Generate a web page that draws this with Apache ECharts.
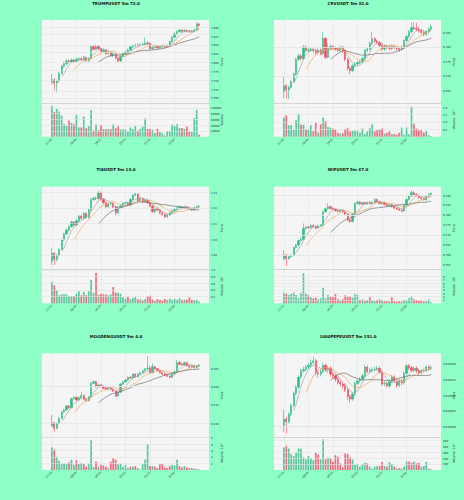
<!DOCTYPE html>
<html>
<head>
<meta charset="utf-8">
<script src="https://cdn.jsdelivr.net/npm/echarts@6/dist/echarts.min.js"></script>
<style>
  html, body { margin: 0; padding: 0; background: #8effc6; }
  #chart { width: 464px; height: 500px; }
</style>
</head>
<body>
<div id="chart"></div>
<script>
// x tick labels, one every 10 candles (5m)
const timeTicks = ['17:55', '18:45', '19:35', '20:25', '21:15', '22:05'];

// ---- TRUMPUSDT ----
const trumpFirstOpen = 7.745;
const trumpClose = [7.752,7.742,7.748,7.770,7.790,7.797,7.805,7.802,7.808,7.804,7.810,7.812,7.808,7.815,7.806,7.812,7.846,7.838,7.846,7.840,7.832,7.836,7.826,7.830,7.820,7.825,7.813,7.805,7.818,7.826,7.830,7.836,7.845,7.848,7.850,7.849,7.851,7.852,7.856,7.855,7.840,7.843,7.846,7.842,7.846,7.848,7.845,7.848,7.860,7.872,7.882,7.888,7.892,7.889,7.891,7.890,7.888,7.889,7.893,7.910,7.906];
const trumpHigh = [7.768,7.756,7.752,7.774,7.794,7.803,7.809,7.809,7.812,7.811,7.814,7.816,7.815,7.819,7.818,7.815,7.850,7.850,7.852,7.850,7.843,7.840,7.838,7.834,7.833,7.829,7.828,7.816,7.822,7.830,7.834,7.840,7.849,7.852,7.854,7.854,7.855,7.857,7.872,7.862,7.858,7.847,7.850,7.849,7.850,7.852,7.851,7.852,7.863,7.876,7.886,7.892,7.896,7.895,7.895,7.894,7.893,7.893,7.897,7.914,7.913];
const trumpLow = [7.738,7.722,7.716,7.745,7.766,7.786,7.793,7.798,7.799,7.800,7.801,7.806,7.804,7.805,7.802,7.802,7.809,7.834,7.835,7.836,7.828,7.829,7.822,7.822,7.816,7.816,7.809,7.800,7.802,7.815,7.822,7.827,7.833,7.842,7.844,7.845,7.846,7.847,7.849,7.850,7.836,7.836,7.840,7.838,7.839,7.843,7.841,7.842,7.845,7.857,7.869,7.878,7.885,7.885,7.886,7.886,7.884,7.885,7.886,7.890,7.902];
const trumpVol = [106000,86000,96000,87000,73000,44000,40000,56000,48000,43000,75000,32000,32000,70000,29000,37000,93000,21000,43000,22000,41000,26000,26000,26000,26000,43000,29000,36000,25000,25000,25000,19000,32000,26000,37000,21000,27000,35000,64000,27000,26000,24000,13000,27000,17000,12000,4000,20000,20000,43000,37000,44000,30000,30000,27000,35000,19000,16000,65000,93000,7000];
const trumpPriceTicks = [7.700,7.725,7.750,7.775,7.800,7.825,7.850,7.875,7.900];
const trumpVolTicks = [20000,40000,60000,80000,100000];

// ---- CRVUSDT ----
const crvFirstOpen = 0.7647;
const crvClose = [0.7666,0.7652,0.7661,0.7681,0.7707,0.7757,0.7769,0.7760,0.7799,0.7787,0.7789,0.7792,0.7787,0.7780,0.7789,0.7776,0.7829,0.7764,0.7795,0.7801,0.7796,0.7792,0.7787,0.7799,0.7785,0.7757,0.7726,0.7718,0.7735,0.7741,0.7746,0.7748,0.7760,0.7787,0.7792,0.7812,0.7828,0.7819,0.7815,0.7805,0.7792,0.7801,0.7799,0.7794,0.7801,0.7797,0.7793,0.7792,0.7799,0.7821,0.7835,0.7852,0.7866,0.7863,0.7860,0.7855,0.7849,0.7843,0.7852,0.7861,0.7869];
const crvHigh = [0.7698,0.7672,0.7667,0.7686,0.7712,0.7762,0.7776,0.7775,0.7806,0.7805,0.7795,0.7798,0.7797,0.7793,0.7795,0.7794,0.7852,0.7834,0.7812,0.7808,0.7806,0.7801,0.7797,0.7804,0.7803,0.7790,0.7762,0.7732,0.7740,0.7747,0.7752,0.7754,0.7766,0.7793,0.7799,0.7818,0.7850,0.7834,0.7825,0.7820,0.7810,0.7807,0.7806,0.7805,0.7807,0.7806,0.7802,0.7799,0.7805,0.7826,0.7841,0.7858,0.7884,0.7884,0.7882,0.7868,0.7862,0.7856,0.7858,0.7867,0.7876];
const crvLow = [0.7624,0.7622,0.7620,0.7657,0.7676,0.7702,0.7751,0.7754,0.7755,0.7781,0.7781,0.7782,0.7780,0.7772,0.7774,0.7770,0.7771,0.7758,0.7760,0.7789,0.7790,0.7786,0.7781,0.7782,0.7779,0.7750,0.7718,0.7706,0.7712,0.7729,0.7736,0.7740,0.7743,0.7755,0.7781,0.7787,0.7806,0.7813,0.7809,0.7799,0.7786,0.7786,0.7793,0.7788,0.7788,0.7791,0.7787,0.7782,0.7786,0.7794,0.7816,0.7830,0.7847,0.7857,0.7853,0.7849,0.7842,0.7836,0.7837,0.7846,0.7856];
const crvVol = [1.29,1.44,0.78,0.78,0.49,1.11,1.56,0.82,0.82,0.49,0.49,0.78,0.38,0.93,0.29,0.84,1.29,1.07,0.67,0.62,0.56,0.49,0.27,0.22,0.22,0.51,0.60,0.36,0.40,0.40,0.40,0.27,0.56,0.18,0.36,0.60,0.84,0.36,0.44,0.49,0.56,0.22,0.27,0.36,0.18,0.18,0.13,0.27,0.62,0.13,0.62,0.16,2.04,0.84,0.56,0.44,0.44,0.29,0.38,0.10,0.05];
const crvPriceTicks = [0.765,0.770,0.775,0.780,0.785];
const crvVolTicks = [0.5,1.0,1.5,2.0];

// ---- TIAUSDT ----
const tiaFirstOpen = 1.4858;
const tiaClose = [1.4911,1.4872,1.4900,1.4936,1.4996,1.5034,1.5060,1.5081,1.5111,1.5091,1.5119,1.5149,1.5134,1.5166,1.5140,1.5187,1.5255,1.5262,1.5260,1.5298,1.5255,1.5234,1.5208,1.5226,1.5230,1.5208,1.5170,1.5204,1.5215,1.5230,1.5234,1.5219,1.5255,1.5281,1.5289,1.5247,1.5260,1.5240,1.5251,1.5234,1.5213,1.5177,1.5198,1.5187,1.5170,1.5160,1.5145,1.5155,1.5170,1.5183,1.5191,1.5202,1.5208,1.5200,1.5208,1.5202,1.5194,1.5187,1.5202,1.5208,1.5211];
const tiaHigh = [1.4943,1.4918,1.4907,1.4943,1.5004,1.5042,1.5068,1.5089,1.5119,1.5118,1.5127,1.5156,1.5157,1.5174,1.5172,1.5195,1.5264,1.5272,1.5275,1.5311,1.5305,1.5262,1.5240,1.5234,1.5238,1.5236,1.5214,1.5211,1.5222,1.5237,1.5241,1.5240,1.5263,1.5289,1.5297,1.5295,1.5267,1.5266,1.5258,1.5257,1.5240,1.5219,1.5205,1.5204,1.5193,1.5176,1.5166,1.5162,1.5177,1.5190,1.5198,1.5209,1.5215,1.5214,1.5215,1.5214,1.5208,1.5200,1.5209,1.5215,1.5218];
const tiaLow = [1.4836,1.4836,1.4860,1.4893,1.4930,1.4990,1.5028,1.5053,1.5075,1.5084,1.5085,1.5112,1.5126,1.5128,1.5132,1.5134,1.5180,1.5246,1.5250,1.5254,1.5246,1.5226,1.5200,1.5202,1.5219,1.5200,1.5155,1.5164,1.5197,1.5209,1.5224,1.5212,1.5213,1.5249,1.5275,1.5240,1.5241,1.5233,1.5234,1.5227,1.5205,1.5170,1.5171,1.5180,1.5162,1.5152,1.5137,1.5139,1.5149,1.5164,1.5177,1.5185,1.5196,1.5193,1.5194,1.5195,1.5187,1.5180,1.5181,1.5196,1.5203];
const tiaVol = [0.64,0.54,0.39,0.24,0.27,0.27,0.27,0.22,0.22,0.22,0.29,0.36,0.24,0.34,0.24,0.36,0.70,0.31,0.91,0.26,0.29,0.27,0.26,0.24,0.27,0.49,0.32,0.32,0.29,0.18,0.14,0.20,0.12,0.16,0.20,0.12,0.12,0.09,0.12,0.21,0.23,0.11,0.08,0.13,0.10,0.08,0.13,0.10,0.14,0.10,0.13,0.11,0.15,0.09,0.11,0.11,0.18,0.11,0.09,0.10,0.05];
const tiaPriceTicks = [1.49,1.50,1.51,1.52,1.53];
const tiaVolTicks = [0.2,0.4,0.6,0.8,1.0];

// ---- WIFUSDT ----
const wifFirstOpen = 0.7578;
const wifClose = [0.7600,0.7582,0.7592,0.7598,0.7637,0.7650,0.7672,0.7678,0.7733,0.7740,0.7737,0.7748,0.7742,0.7735,0.7745,0.7750,0.7817,0.7832,0.7842,0.7833,0.7828,0.7822,0.7818,0.7825,0.7815,0.7805,0.7775,0.7768,0.7805,0.7858,0.7865,0.7855,0.7862,0.7855,0.7863,0.7857,0.7863,0.7878,0.7867,0.7858,0.7862,0.7853,0.7847,0.7850,0.7842,0.7835,0.7830,0.7825,0.7820,0.7850,0.7878,0.7895,0.7912,0.7903,0.7897,0.7888,0.7882,0.7877,0.7895,0.7903,0.7908];
const wifHigh = [0.7625,0.7606,0.7597,0.7603,0.7642,0.7655,0.7677,0.7690,0.7758,0.7746,0.7746,0.7753,0.7753,0.7747,0.7750,0.7755,0.7822,0.7838,0.7858,0.7848,0.7838,0.7833,0.7827,0.7830,0.7830,0.7820,0.7810,0.7780,0.7810,0.7863,0.7872,0.7870,0.7867,0.7867,0.7868,0.7868,0.7868,0.7885,0.7883,0.7872,0.7867,0.7867,0.7858,0.7855,0.7855,0.7847,0.7840,0.7835,0.7830,0.7855,0.7883,0.7900,0.7925,0.7920,0.7908,0.7902,0.7893,0.7887,0.7900,0.7908,0.7913];
const wifLow = [0.7572,0.7545,0.7576,0.7587,0.7593,0.7632,0.7645,0.7667,0.7673,0.7728,0.7731,0.7732,0.7737,0.7729,0.7730,0.7740,0.7745,0.7812,0.7827,0.7828,0.7823,0.7817,0.7812,0.7813,0.7810,0.7800,0.7768,0.7760,0.7763,0.7800,0.7853,0.7850,0.7850,0.7850,0.7850,0.7852,0.7852,0.7858,0.7862,0.7853,0.7853,0.7848,0.7842,0.7842,0.7837,0.7830,0.7825,0.7820,0.7815,0.7815,0.7845,0.7873,0.7890,0.7898,0.7892,0.7883,0.7877,0.7872,0.7872,0.7890,0.7898];
const wifVol = [3.2,3.0,2.5,2.8,3.3,2.5,1.5,3.2,9.0,3.0,2.4,1.8,1.5,1.7,1.2,1.5,4.7,1.5,2.5,2.0,1.8,2.7,1.2,1.0,1.2,2.4,2.0,2.0,1.7,2.7,2.5,1.0,1.2,0.8,1.0,1.8,1.0,0.7,1.0,1.2,1.0,0.6,0.6,0.6,1.8,0.6,0.5,0.6,0.5,1.0,1.0,1.5,2.0,1.2,1.0,0.8,1.0,0.6,0.6,1.2,0.3];
const wifPriceTicks = [0.755,0.760,0.765,0.770,0.775,0.780,0.785,0.790];
const wifVolTicks = [1,2,3,4,5,6,7,8];

// ---- MOODENGUSDT ----
const moodengFirstOpen = 0.18927;
const moodengClose = [0.19018,0.18864,0.19000,0.19136,0.19309,0.19364,0.19473,0.19427,0.19673,0.19709,0.19636,0.19700,0.19764,0.19655,0.19618,0.19718,0.20091,0.20136,0.20000,0.20045,0.20000,0.19955,0.19927,0.19964,0.19927,0.19882,0.19745,0.19845,0.20073,0.20127,0.20182,0.20255,0.20236,0.20345,0.20273,0.20345,0.20382,0.20436,0.20482,0.20500,0.20382,0.20545,0.20491,0.20436,0.20382,0.20345,0.20309,0.20282,0.20255,0.20364,0.20409,0.20655,0.20609,0.20591,0.20655,0.20573,0.20536,0.20573,0.20518,0.20564,0.20591];
const moodengHigh = [0.19227,0.19040,0.19025,0.19160,0.19335,0.19390,0.19500,0.19495,0.19700,0.19735,0.19730,0.19725,0.19864,0.19785,0.19680,0.19745,0.20120,0.20180,0.20160,0.20070,0.20065,0.20020,0.19975,0.19990,0.19985,0.19950,0.19900,0.19870,0.20100,0.20155,0.20210,0.20280,0.20280,0.20370,0.20365,0.20370,0.20410,0.20460,0.20510,0.20836,0.20560,0.20640,0.20570,0.20515,0.20460,0.20400,0.20370,0.20330,0.20305,0.20390,0.20435,0.20727,0.20700,0.20660,0.20680,0.20680,0.20600,0.20600,0.20595,0.20590,0.20615];
const moodengLow = [0.18900,0.18773,0.18840,0.18980,0.19115,0.19290,0.19340,0.19400,0.19410,0.19650,0.19610,0.19615,0.19680,0.19630,0.19590,0.19600,0.19700,0.20070,0.19975,0.19980,0.19975,0.19930,0.19900,0.19910,0.19900,0.19855,0.19720,0.19725,0.19830,0.20050,0.20110,0.20160,0.20210,0.20220,0.20250,0.20250,0.20325,0.20360,0.20415,0.20460,0.20360,0.20365,0.20470,0.20410,0.20360,0.20320,0.20285,0.20260,0.20230,0.20235,0.20340,0.20390,0.20585,0.20570,0.20570,0.20550,0.20510,0.20515,0.20495,0.20500,0.20540];
const moodengVol = [3.5,3.2,2.05,1.4,1.0,1.0,1.0,1.2,1.6,0.8,1.5,0.9,1.1,0.9,0.5,0.9,4.6,0.5,1.3,0.5,0.8,0.7,0.5,0.3,1.3,1.8,1.6,0.9,1.0,0.5,0.8,0.3,0.5,0.5,0.6,0.3,0.1,0.9,1.6,4.0,0.6,0.6,0.5,0.3,0.9,0.9,0.4,0.3,0.6,0.8,0.7,1.6,0.6,0.4,0.6,0.4,0.3,0.3,0.2,0.15,0.1];
const moodengPriceTicks = [0.190,0.195,0.200,0.205];
const moodengVolTicks = [1,2,3,4,5];

// ---- 1000PEPEUSDT ----
const pepeFirstOpen = 0.010002;
const pepeClose = [0.010012,0.010008,0.010020,0.010034,0.010053,0.010063,0.010079,0.010089,0.010091,0.010095,0.010098,0.010102,0.010105,0.010086,0.010084,0.010088,0.010098,0.010091,0.010093,0.010084,0.010081,0.010076,0.010071,0.010068,0.010065,0.010059,0.010048,0.010044,0.010052,0.010069,0.010073,0.010076,0.010081,0.010095,0.010088,0.010090,0.010091,0.010092,0.010093,0.010087,0.010068,0.010069,0.010065,0.010072,0.010079,0.010073,0.010066,0.010073,0.010070,0.010085,0.010097,0.010094,0.010090,0.010093,0.010089,0.010086,0.010089,0.010090,0.010095,0.010093,0.010094];
const pepeHigh = [0.010027,0.010016,0.010023,0.010037,0.010056,0.010066,0.010082,0.010092,0.010096,0.010099,0.010102,0.010107,0.010111,0.010108,0.010090,0.010092,0.010102,0.010101,0.010097,0.010096,0.010087,0.010084,0.010079,0.010074,0.010071,0.010068,0.010062,0.010051,0.010055,0.010072,0.010076,0.010079,0.010084,0.010099,0.010098,0.010094,0.010095,0.010096,0.010097,0.010096,0.010090,0.010073,0.010072,0.010075,0.010082,0.010082,0.010076,0.010076,0.010076,0.010088,0.010100,0.010100,0.010097,0.010096,0.010096,0.010092,0.010092,0.010093,0.010098,0.010098,0.010098];
const pepeLow = [0.009992,0.009989,0.010005,0.010017,0.010031,0.010050,0.010060,0.010076,0.010086,0.010088,0.010092,0.010095,0.010099,0.010082,0.010078,0.010080,0.010085,0.010087,0.010086,0.010080,0.010077,0.010072,0.010067,0.010064,0.010061,0.010055,0.010042,0.010038,0.010041,0.010049,0.010066,0.010070,0.010073,0.010078,0.010085,0.010085,0.010087,0.010088,0.010089,0.010084,0.010065,0.010064,0.010062,0.010062,0.010069,0.010070,0.010062,0.010063,0.010066,0.010067,0.010082,0.010090,0.010087,0.010087,0.010086,0.010083,0.010083,0.010086,0.010087,0.010090,0.010090];
const pepeVol = [378,411,361,267,233,294,361,356,211,178,233,194,167,294,261,178,511,178,211,194,139,250,222,111,44,278,267,211,178,83,100,56,100,122,111,56,22,56,67,67,133,67,56,133,100,56,22,33,22,56,144,144,122,144,111,122,56,67,139,22,10];
const pepePriceTicks = [0.010000,0.010025,0.010050,0.010075,0.010100];
const pepeVolTicks = [100,200,300,400,500];

const UP = '#2ebd85', DOWN = '#f6465d';
const MA_COLORS = ['#a3a3a3', '#f2a65e', '#6e6e6e'];
const MA_LEN = [5, 10, 20];
const GRID_LINE = '#e2e2e2';
const TXT = '#222';

const panels = [
  { title: 'TRUMPUSDT 5m 72.0', open0: trumpFirstOpen, close: trumpClose, high: trumpHigh, low: trumpLow, vol: trumpVol,
    pTicks: trumpPriceTicks, vTicks: trumpVolTicks, pDig: 3, vDig: 0, pMin: 7.685, pMax: 7.921, vMax: 116000, volName: 'Volume', col: 0, row: 0 },
  { title: 'CRVUSDT 5m 32.0', open0: crvFirstOpen, close: crvClose, high: crvHigh, low: crvLow, vol: crvVol,
    pTicks: crvPriceTicks, vTicks: crvVolTicks, pDig: 3, vDig: 1, pMin: 0.7606, pMax: 0.7892, vMax: 2.27, volName: 'Volume  10\u2076', col: 1, row: 0 },
  { title: 'TIAUSDT 5m 13.0', open0: tiaFirstOpen, close: tiaClose, high: tiaHigh, low: tiaLow, vol: tiaVol,
    pTicks: tiaPriceTicks, vTicks: tiaVolTicks, pDig: 2, vDig: 1, pMin: 1.4809, pMax: 1.5336, vMax: 1.02, volName: 'Volume  10\u2076', col: 0, row: 1 },
  { title: 'WIFUSDT 5m 47.0', open0: wifFirstOpen, close: wifClose, high: wifHigh, low: wifLow, vol: wifVol,
    pTicks: wifPriceTicks, vTicks: wifVolTicks, pDig: 3, vDig: 0, pMin: 0.7528, pMax: 0.7942, vMax: 10.2, volName: 'Volume  10\u2075', col: 1, row: 1 },
  { title: 'MOODENGUSDT 5m 4.0', open0: moodengFirstOpen, close: moodengClose, high: moodengHigh, low: moodengLow, vol: moodengVol,
    pTicks: moodengPriceTicks, vTicks: moodengVolTicks, pDig: 3, vDig: 0, pMin: 0.1862, pMax: 0.2091, vMax: 5.05, volName: 'Volume  10\u2076', col: 0, row: 2 },
  { title: '1000PEPEUSDT 5m 151.0', open0: pepeFirstOpen, close: pepeClose, high: pepeHigh, low: pepeLow, vol: pepeVol,
    pTicks: pepePriceTicks, vTicks: pepeVolTicks, pDig: 6, vDig: 0, pMin: 0.009983, pMax: 0.010117, vMax: 550, volName: 'Volume  10\u2076', col: 1, row: 2 }
];

// layout (px)
const colLeft = [42, 274], plotW = 167, titleX = [116, 348];
const rows = [
  { top: 20, mid: 103.3, bottom: 136.7, titleY: 3 },
  { top: 186.7, mid: 269.3, bottom: 303.3, titleY: 169 },
  { top: 353.3, mid: 437.3, bottom: 470, titleY: 336 }
];

const PAD_L = 4, PAD_R = 4;
const N = trumpClose.length;
const cats = [];
for (let i = 0; i < PAD_L + N + PAD_R; i++) {
  const d = i - PAD_L;
  cats.push(d >= 0 && d % 10 === 0 && timeTicks[d / 10] !== undefined ? timeTicks[d / 10] : ' ');
}
const isTick = idx => {
  const d = idx - PAD_L;
  return d >= 0 && d % 10 === 0 && timeTicks[d / 10] !== undefined;
};
const pad = (arr, empty) => Array(PAD_L).fill(empty).concat(arr, Array(PAD_R).fill(empty));
const sma = (c, n) => c.map((_, i) => i < n - 1 ? '-' : c.slice(i - n + 1, i + 1).reduce((a, b) => a + b, 0) / n);

const grids = [], xAxes = [], yAxes = [], series = [], graphics = [];
const font = 'DejaVu Sans';
const TICK_FS = 2.7, NAME_FS = 3.2;

panels.forEach((p, k) => {
  const r = rows[p.row];
  const left = colLeft[p.col];
  const gi = 2 * k;
  grids.push({ left: left, top: r.top, width: plotW, height: r.mid - r.top, show: true, backgroundColor: '#f5f5f5', borderWidth: 0, containLabel: false, outerBoundsMode: 'none' });
  grids.push({ left: left, top: r.mid, width: plotW, height: r.bottom - r.mid, show: true, backgroundColor: '#f5f5f5', borderWidth: 0, containLabel: false, outerBoundsMode: 'none' });

  const split = { show: true, interval: isTick, lineStyle: { color: GRID_LINE, width: 0.6 } };
  xAxes.push({ type: 'category', gridIndex: gi, data: cats, boundaryGap: false,
    axisLabel: { show: false }, axisTick: { show: false },
    axisLine: { show: true, lineStyle: { color: '#c8c8c8', width: 0.7 } }, splitLine: split });
  xAxes.push({ type: 'category', gridIndex: gi + 1, data: cats, boundaryGap: false,
    axisLabel: { show: true, interval: isTick, rotate: 45, fontSize: TICK_FS, margin: 2.5, color: TXT, fontFamily: font },
    axisTick: { show: true, interval: isTick, length: 1.2, lineStyle: { color: '#888', width: 0.5 } },
    axisLine: { show: false }, splitLine: split });

  const yName = { nameLocation: 'middle', nameRotate: 90, nameMoveOverlap: false,
    nameTextStyle: { fontSize: NAME_FS, color: TXT, fontFamily: font } };
  yAxes.push(Object.assign({ type: 'value', gridIndex: gi, position: 'right', min: p.pMin, max: p.pMax,
    name: 'Price', nameGap: 11,
    axisLabel: { customValues: p.pTicks, formatter: v => v.toFixed(p.pDig), fontSize: TICK_FS, margin: 2, color: TXT, fontFamily: font },
    axisTick: { show: false }, axisLine: { show: false }, splitLine: { show: false } }, yName));
  yAxes.push(Object.assign({ type: 'value', gridIndex: gi + 1, position: 'right', min: 0, max: p.vMax,
    name: p.volName, nameGap: 11,
    axisLabel: { customValues: p.vTicks, formatter: v => v.toFixed(p.vDig), fontSize: TICK_FS, margin: 2, color: TXT, fontFamily: font },
    axisTick: { show: false }, axisLine: { show: false }, splitLine: { show: false } }, yName));

  const opens = p.close.map((c, i) => i === 0 ? p.open0 : p.close[i - 1]);
  const candles = p.close.map((c, i) => [opens[i], c, p.low[i], p.high[i]]);
  const volData = p.vol.map((v, i) => ({ value: v, itemStyle: { color: p.close[i] >= opens[i] ? UP : DOWN } }));

  // horizontal grid lines at the tick values
  const hLines = (ticks, ax) => ({
    type: 'line', xAxisIndex: ax, yAxisIndex: ax, data: [], z: 1, silent: true,
    markLine: { silent: true, symbol: ['none', 'none'], label: { show: false }, animation: false,
      lineStyle: { color: GRID_LINE, width: 0.6, type: 'solid' },
      data: ticks.map(v => ({ yAxis: v })) }
  });
  series.push(hLines(p.pTicks, gi));
  series.push(hLines(p.vTicks, gi + 1));

  series.push({ type: 'candlestick', xAxisIndex: gi, yAxisIndex: gi, z: 3,
    data: pad(candles, ['-', '-', '-', '-']), barWidth: '72%',
    itemStyle: { color: UP, color0: DOWN, borderColor: UP, borderColor0: DOWN, borderWidth: 0.6 } });
  MA_LEN.forEach((n, m) => {
    series.push({ type: 'line', xAxisIndex: gi, yAxisIndex: gi, z: 4, showSymbol: false, silent: true,
      data: pad(sma(p.close, n), '-'), lineStyle: { color: MA_COLORS[m], width: 0.7 } });
  });
  series.push({ type: 'bar', xAxisIndex: gi + 1, yAxisIndex: gi + 1, z: 3,
    data: pad(volData, '-'), barWidth: '70%', itemStyle: { opacity: 0.8 } });

  graphics.push({ type: 'text', x: titleX[p.col], y: r.titleY,
    style: { text: p.title, fill: '#111', font: 'bold 4px "DejaVu Sans"', align: 'center', verticalAlign: 'middle' } });
});

const chart = echarts.init(document.getElementById('chart'), null, { renderer: 'svg' });
chart.setOption({
  backgroundColor: '#8effc6',
  animation: false,
  textStyle: { fontFamily: font },
  grid: grids,
  xAxis: xAxes,
  yAxis: yAxes,
  series: series,
  graphic: graphics
});
</script>
</body>
</html>
